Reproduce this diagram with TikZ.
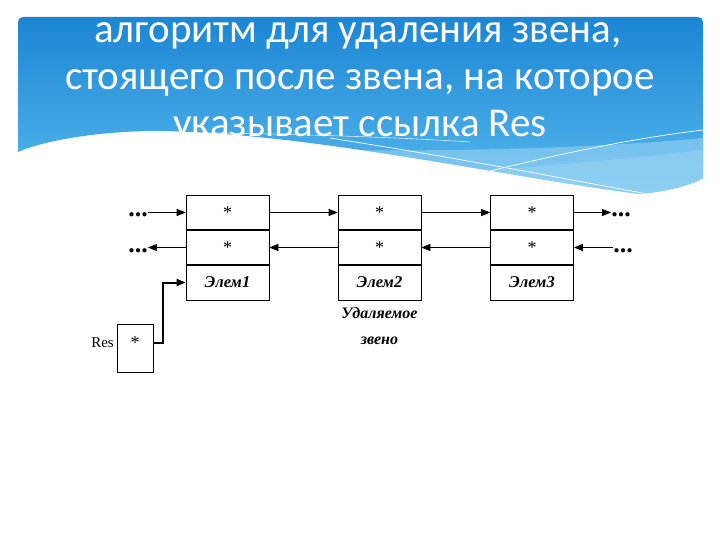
\documentclass[tikz,border=0pt]{standalone}
\usepackage{fontspec}
\setmainfont{Liberation Serif}
\newfontfamily\titlefont{Carlito}
\usetikzlibrary{arrows.meta}
\definecolor{bandtop}{RGB}{28,134,212}
\definecolor{bandbot}{RGB}{86,184,237}
\definecolor{bandlight}{RGB}{160,214,245}
\tikzset{
  cell/.style={draw,line width=0.7pt,minimum width=83pt,minimum height=35pt,inner sep=0pt,
    font=\fontsize{18}{18}\selectfont},
  elemtxt/.style={font=\fontsize{16.5}{16.5}\selectfont\bfseries\itshape},
  divider/.style={line width=1.8pt},
  arr/.style={line width=0.7pt,-{Triangle[length=9pt,width=7pt]}},
  resarr/.style={line width=2pt,-{Triangle[length=9pt,width=7pt]}},
  dots/.style={inner sep=0pt,anchor=base,font=\fontsize{26}{26}\selectfont\bfseries},
  titletxt/.style={text=white,anchor=base,inner sep=0pt,font=\titlefont\fontsize{41}{41}\selectfont},
  note/.style={inner sep=0pt,font=\fontsize{16}{16}\selectfont\bfseries\itshape},
}
\begin{document}
\begin{tikzpicture}[x=1pt,y=-1pt]
\useasboundingbox (0,0) rectangle (720,540);
\fill[white] (0,0) rectangle (720,540);
% header band
\def\bandpath{(18,152) -- (18,22) .. controls (18,19) and (20,17) .. (23,17) -- (698,17)
  .. controls (701,17) and (703,19) .. (703,22) -- (703,178)
  .. controls (690,186) and (662,192) .. (640,194)
  .. controls (500,176) and (300,131) .. (150,131)
  .. controls (90,132) and (40,142) .. (18,152) -- cycle}
\shade[top color=bandtop,bottom color=bandbot] \bandpath;
\begin{scope}
  \clip \bandpath;
  \fill[bandlight,opacity=0.55] (300,150) .. controls (450,152) and (600,148) .. (703,138)
    -- (703,200) -- (300,200) -- cycle;
  \fill[bandlight,opacity=0.45] (420,175) .. controls (520,168) and (620,160) .. (703,150)
    -- (703,200) -- (420,200) -- cycle;
  \draw[white,line width=0.7pt] (330,138) .. controls (470,160) and (560,178) .. (648,194);
  \draw[white,line width=0.7pt] (430,186) .. controls (540,158) and (620,140) .. (703,130);
  \draw[white,line width=0.6pt,opacity=0.8] (140,132) .. controls (250,133) and (380,136) .. (470,142);
\end{scope}
% title
\node[titletxt] (t1) at (358,43) {алгоритм для удаления звена,};
\node[titletxt] (t2) at (360,90) {стоящего после звена, на которое};
\node[titletxt] (t3) at (360,137) {указывает ссылка Res};

% element boxes
\node[cell] (e1a) at (227.5,212.5) {*};
\node[cell] (e1b) at (227.5,247.5) {*};
\node[cell,elemtxt] (e1c) at (227.5,282.5) {Элем1};
\node[cell] (e2a) at (379.5,212.5) {*};
\node[cell] (e2b) at (379.5,247.5) {*};
\node[cell,elemtxt] (e2c) at (379.5,282.5) {Элем2};
\node[cell] (e3a) at (532,212.5) {*};
\node[cell] (e3b) at (532,247.5) {*};
\node[cell,elemtxt] (e3c) at (532,282.5) {Элем3};
\foreach \e in {e1,e2,e3}{
  \draw[divider] (\e a.south west) -- (\e a.south east);
  \draw[divider] (\e b.south west) -- (\e b.south east);
}
% dots
\node[dots] (dl1) at (138,217) {...};
\node[dots] (dl2) at (138,252) {...};
\node[dots] (dr1) at (621,217) {...};
\node[dots] (dr2) at (623,252) {...};
% arrows
\draw[arr] (dl1.east |- e1a.west) -- (e1a.west);
\draw[arr] (e1b.west) -- (dl2.east |- e1b.west);
\draw[arr] (e1a.east) -- (e2a.west);
\draw[arr] (e2b.west) -- (e1b.east);
\draw[arr] (e2a.east) -- (e3a.west);
\draw[arr] (e3b.west) -- (e2b.east);
\draw[arr] (e3a.east) -- (dr1.west |- e3a.east);
\draw[arr] (dr2.west |- e3b.east) -- (e3b.east);
% notes
\node[note] (n1) at (379.5,313) {Удаляемое};
\node[note] (n2) at (379.5,341) {звено};
% Res
\node[draw,line width=0.7pt,minimum width=36pt,minimum height=48pt,inner sep=0pt] (res) at (135,348) {};
\node[inner sep=0pt,font=\fontsize{18}{18}\selectfont] (resstar) at (135,343) {*};
\node[inner sep=0pt,anchor=east,font=\fontsize{15}{15}\selectfont] (reslbl) at (114,343) {Res};
\draw[resarr] (resstar -| res.east) -- ++(10,0) |- (e1c.west);
\end{tikzpicture}
\end{document}
